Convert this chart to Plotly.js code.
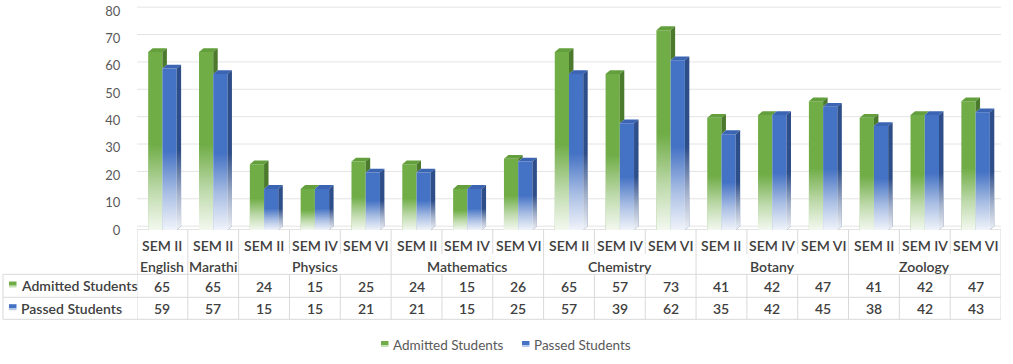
<!DOCTYPE html>
<html><head><meta charset="utf-8">
<script src="https://cdn.plot.ly/plotly-3.0.1.min.js"></script>
<style>html,body{margin:0;padding:0;background:#fff}#chart{width:1013px;height:364px}</style>
</head><body><div id="chart"></div>
<script>
// ---- data ----
const semesters = ['SEM II','SEM II','SEM II','SEM IV','SEM VI','SEM II','SEM IV','SEM VI','SEM II','SEM IV','SEM VI','SEM II','SEM IV','SEM VI','SEM II','SEM IV','SEM VI'];
const subjects = ['English','Marathi','Physics','Mathematics','Chemistry','Botany','Zoology'];
const subjectSpans = [1,1,3,3,3,3,3];
const admitted = [65,65,24,15,25,24,15,26,65,57,73,41,42,47,41,42,47];
const passed = [59,57,15,15,21,21,15,25,57,39,62,35,42,45,38,42,43];
const seriesNames = ['Admitted Students','Passed Students'];
const yTicks = [0,10,20,30,40,50,60,70,80];

// ---- styling / geometry ----
const W=1013,H=364,L=137,R=1001,T=5,B=230;
const YMAX=(B-T)/((B-11)/80);
const fx=p=>(p-L)/(R-L), fy=p=>(B-p)/(B-T);
const BW=0.28, DX=0.088, DY=1.4, GRID_SHIFT=1.4;
const GREEN='#70AD47', GREEN_TOP='#63A03D', GREEN_SIDE='#4B7A2D';
const BLUE='#4472C4', BLUE_TOP='#3B65B3', BLUE_SIDE='#2E4E89';
const FONT='Lato, "Open Sans", sans-serif';
const idx=semesters.map((_,i)=>i);
const fadeScale=[[0,'rgba(255,255,255,0.92)'],[0.22,'rgba(255,255,255,0.55)'],[0.48,'rgba(255,255,255,0)'],[1,'rgba(255,255,255,0)']];

const traces=[];
traces.push({type:'bar',x:idx,y:admitted,width:BW,offset:-BW,marker:{color:GREEN},hoverinfo:'skip',showlegend:false,name:seriesNames[0]});
traces.push({type:'bar',x:idx,y:passed,width:BW,offset:0,marker:{color:BLUE},hoverinfo:'skip',showlegend:false,name:seriesNames[1]});

function poly(xs,ys,color){return {type:'scatter',mode:'lines',x:xs,y:ys,fill:'toself',fillcolor:color,line:{width:0},hoverinfo:'skip',showlegend:false};}
// green top faces
{let xs=[],ys=[];idx.forEach(i=>{const v=admitted[i],x0=i-BW,x1=i;xs.push(x0,x1,x1+DX,x0+DX,x0,null);ys.push(v,v,v+DY,v+DY,v,null);});traces.push(poly(xs,ys,GREEN_TOP));}
// green visible side faces (above blue bar)
{let xs=[],ys=[];idx.forEach(i=>{const a=admitted[i],p=passed[i];if(a>p){xs.push(i,i,i+DX,i+DX,i,null);ys.push(p,a,a+DY,p+DY,p,null);}});traces.push(poly(xs,ys,GREEN_SIDE));}
// green fade overlays
idx.forEach(i=>{const a=admitted[i];const t=poly([i-BW,i-BW,i,i,i-BW],[0,a,a,0,0],'rgba(0,0,0,0)');t.fillgradient={type:'vertical',colorscale:fadeScale};traces.push(t);});
// blue top faces
{let xs=[],ys=[];idx.forEach(i=>{const v=passed[i],x0=i,x1=i+BW;xs.push(x0,x1,x1+DX,x0+DX,x0,null);ys.push(v,v,v+DY,v+DY,v,null);});traces.push(poly(xs,ys,BLUE_TOP));}
// blue side faces
{let xs=[],ys=[];idx.forEach(i=>{const v=passed[i],x1=i+BW;xs.push(x1,x1,x1+DX,x1+DX,x1,null);ys.push(0,v,v+DY,DY,0,null);});traces.push(poly(xs,ys,BLUE_SIDE));}
// blue fade overlays
idx.forEach(i=>{const p=passed[i],x1=i+BW;const t=poly([i,i,x1,x1+DX,x1+DX,x1,i],[0,p,p,p+DY,DY,0,0],'rgba(0,0,0,0)');t.fillgradient={type:'vertical',colorscale:fadeScale};traces.push(t);});

// ---- shapes ----
const shapes=[];
const GRID='#e4e4e4', TBL='#d9d9d9';
yTicks.forEach(t=>shapes.push({type:'line',xref:'x',yref:'y',x0:-0.5,x1:16.5,y0:t+GRID_SHIFT,y1:t+GRID_SHIFT,line:{color:GRID,width:1},layer:'below'}));
shapes.push({type:'line',xref:'paper',yref:'paper',x0:0,x1:1,y0:fy(229.5),y1:fy(229.5),line:{color:GRID,width:1},layer:'below'});
const yRow1Bot=254, yHdrBot=274.3, yMid=297.3, yBot=319.3;
const groupStart=[];{let s=0;subjectSpans.forEach(n=>{groupStart.push(s);s+=n;});}
const boundaries=new Set(groupStart.concat([17]));
for(let k=0;k<=17;k++){
  const xv=k-0.5;
  if(boundaries.has(k)){
    shapes.push({type:'line',xref:'x',yref:'paper',x0:xv,x1:xv,y0:fy(229.5),y1:fy(yBot),line:{color:TBL,width:1}});
  } else {
    shapes.push({type:'line',xref:'x',yref:'paper',x0:xv,x1:xv,y0:fy(229.5),y1:fy(yRow1Bot),line:{color:TBL,width:1}});
    shapes.push({type:'line',xref:'x',yref:'paper',x0:xv,x1:xv,y0:fy(yHdrBot),y1:fy(yBot),line:{color:TBL,width:1}});
  }
}
[yHdrBot,yMid,yBot].forEach(p=>shapes.push({type:'line',xref:'paper',yref:'paper',x0:fx(3),x1:1,y0:fy(p),y1:fy(p),line:{color:TBL,width:1}}));
shapes.push({type:'line',xref:'paper',yref:'paper',x0:fx(3),x1:fx(3),y0:fy(yHdrBot),y1:fy(yBot),line:{color:TBL,width:1}});

function key(x0,yTop,solid,light){
  shapes.push({type:'rect',xref:'paper',yref:'paper',x0:fx(x0),x1:fx(x0+7.5),y0:fy(yTop),y1:fy(yTop+4.2),fillcolor:solid,line:{width:0}});
  shapes.push({type:'rect',xref:'paper',yref:'paper',x0:fx(x0),x1:fx(x0+7.5),y0:fy(yTop+4.2),y1:fy(yTop+6),fillcolor:light,line:{width:0}});
}
const GREEN_LIGHT='#c5e0b4', BLUE_LIGHT='#b4c7e7';
key(9,281.5,GREEN,GREEN_LIGHT);
key(9,304.2,BLUE,BLUE_LIGHT);
key(381,341,GREEN,GREEN_LIGHT);
key(522,341,BLUE,BLUE_LIGHT);

// ---- annotations ----
const ann=[];
const TXT='#404040';
const tf={family:FONT,size:14,color:TXT,weight:600};
function a(x,xref,y,text,font,xanchor){ann.push({x:x,xref:xref,y:fy(y),yref:'paper',text:text,showarrow:false,font:font,xanchor:xanchor||'center',yanchor:'middle'});}
semesters.forEach((s,i)=>a(i,'x',245.5,s,tf));
subjects.forEach((s,g)=>a(groupStart[g]+(subjectSpans[g]-1)/2,'x',266.5,s,tf));
admitted.forEach((v,i)=>a(i,'x',286.5,String(v),tf));
passed.forEach((v,i)=>a(i,'x',308.5,String(v),tf));
a(fx(19),'paper',285.5,seriesNames[0],tf,'left');
a(fx(19),'paper',308,seriesNames[1],tf,'left');
const lf={family:FONT,size:13.5,color:'#595959'};
a(fx(390.5),'paper',345,seriesNames[0],lf,'left');
a(fx(531.5),'paper',345,seriesNames[1],lf,'left');

const layout={
  width:W,height:H,margin:{l:L,r:W-R,t:T,b:H-B},
  paper_bgcolor:'#fff',plot_bgcolor:'rgba(0,0,0,0)',
  showlegend:false,barmode:'overlay',
  xaxis:{range:[-0.5,16.5],showticklabels:false,showgrid:false,zeroline:false,showline:false,ticks:'',fixedrange:true},
  yaxis:{range:[0,YMAX],tickvals:yTicks,showgrid:false,zeroline:false,showline:false,ticks:'outside',ticklen:13,tickcolor:'rgba(0,0,0,0)',tickfont:{family:FONT,size:13,color:'#595959'},fixedrange:true},
  shapes:shapes,annotations:ann,font:{family:FONT}
};
Plotly.newPlot('chart',traces,layout,{displayModeBar:false,staticPlot:true});
</script></body></html>
